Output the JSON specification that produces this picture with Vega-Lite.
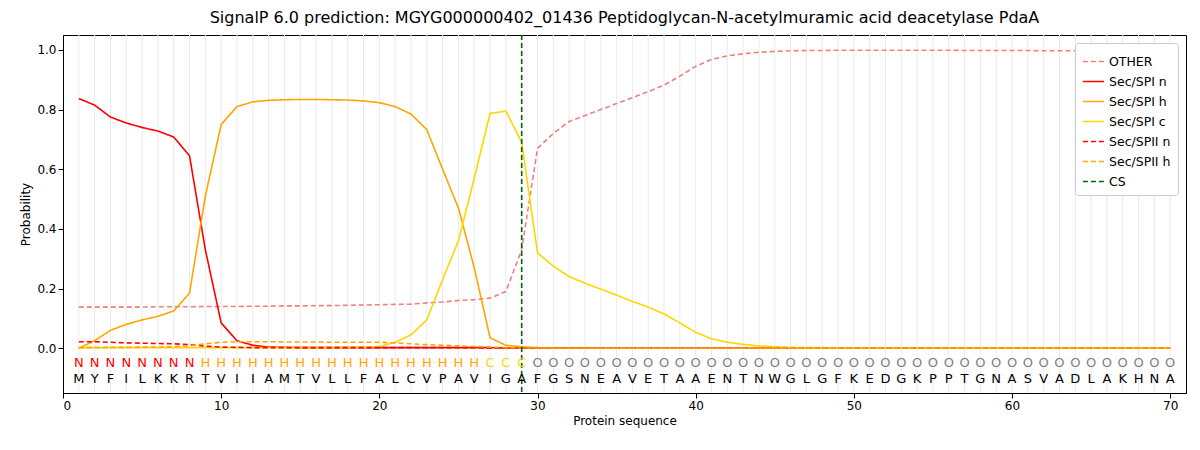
{
  "$schema": "https://vega.github.io/schema/vega-lite/v6.json",
  "autosize": {"type": "fit", "contains": "padding"},
  "width": 1200,
  "height": 450,
  "padding": {"left": 19, "top": 10, "right": 14, "bottom": 24},
  "background": "white",
  "title": {"text": "SignalP 6.0 prediction: MGYG000000402_01436 Peptidoglycan-N-acetylmuramic acid deacetylase PdaA", "fontSize": 16, "fontWeight": "normal", "font": "DejaVu Sans", "offset": 8},
  "config": {"font": "DejaVu Sans", "view": {"stroke": "black"}, "axis": {"labelFontSize": 12, "titleFontSize": 12, "titleFontWeight": "normal", "domainColor": "black", "tickColor": "black", "labelColor": "black"}},
  "data": {"values": [
    {"pos":1,"aa":"M","lab":"N","OTHER":0.138,"Sec/SPI n":0.837,"Sec/SPI h":0.0,"Sec/SPI c":0.002,"Sec/SPII n":0.022,"Sec/SPII h":0.002},
    {"pos":2,"aa":"Y","lab":"N","OTHER":0.138,"Sec/SPI n":0.815,"Sec/SPI h":0.025,"Sec/SPI c":0.002,"Sec/SPII n":0.022,"Sec/SPII h":0.002},
    {"pos":3,"aa":"F","lab":"N","OTHER":0.138,"Sec/SPI n":0.775,"Sec/SPI h":0.06,"Sec/SPI c":0.002,"Sec/SPII n":0.02,"Sec/SPII h":0.003},
    {"pos":4,"aa":"I","lab":"N","OTHER":0.138,"Sec/SPI n":0.755,"Sec/SPI h":0.08,"Sec/SPI c":0.002,"Sec/SPII n":0.018,"Sec/SPII h":0.003},
    {"pos":5,"aa":"L","lab":"N","OTHER":0.138,"Sec/SPI n":0.74,"Sec/SPI h":0.095,"Sec/SPI c":0.002,"Sec/SPII n":0.017,"Sec/SPII h":0.004},
    {"pos":6,"aa":"K","lab":"N","OTHER":0.139,"Sec/SPI n":0.728,"Sec/SPI h":0.107,"Sec/SPI c":0.002,"Sec/SPII n":0.016,"Sec/SPII h":0.004},
    {"pos":7,"aa":"K","lab":"N","OTHER":0.139,"Sec/SPI n":0.708,"Sec/SPI h":0.125,"Sec/SPI c":0.002,"Sec/SPII n":0.015,"Sec/SPII h":0.005},
    {"pos":8,"aa":"R","lab":"N","OTHER":0.139,"Sec/SPI n":0.645,"Sec/SPI h":0.185,"Sec/SPI c":0.002,"Sec/SPII n":0.012,"Sec/SPII h":0.008},
    {"pos":9,"aa":"T","lab":"H","OTHER":0.14,"Sec/SPI n":0.33,"Sec/SPI h":0.51,"Sec/SPI c":0.002,"Sec/SPII n":0.007,"Sec/SPII h":0.015},
    {"pos":10,"aa":"V","lab":"H","OTHER":0.14,"Sec/SPI n":0.085,"Sec/SPI h":0.75,"Sec/SPI c":0.002,"Sec/SPII n":0.004,"Sec/SPII h":0.02},
    {"pos":11,"aa":"I","lab":"H","OTHER":0.14,"Sec/SPI n":0.025,"Sec/SPI h":0.81,"Sec/SPI c":0.002,"Sec/SPII n":0.003,"Sec/SPII h":0.022},
    {"pos":12,"aa":"I","lab":"H","OTHER":0.141,"Sec/SPI n":0.01,"Sec/SPI h":0.826,"Sec/SPI c":0.002,"Sec/SPII n":0.002,"Sec/SPII h":0.022},
    {"pos":13,"aa":"A","lab":"H","OTHER":0.141,"Sec/SPI n":0.004,"Sec/SPI h":0.831,"Sec/SPI c":0.002,"Sec/SPII n":0.002,"Sec/SPII h":0.022},
    {"pos":14,"aa":"M","lab":"H","OTHER":0.142,"Sec/SPI n":0.003,"Sec/SPI h":0.833,"Sec/SPI c":0.002,"Sec/SPII n":0.002,"Sec/SPII h":0.021},
    {"pos":15,"aa":"T","lab":"H","OTHER":0.142,"Sec/SPI n":0.002,"Sec/SPI h":0.834,"Sec/SPI c":0.002,"Sec/SPII n":0.002,"Sec/SPII h":0.021},
    {"pos":16,"aa":"V","lab":"H","OTHER":0.143,"Sec/SPI n":0.002,"Sec/SPI h":0.834,"Sec/SPI c":0.002,"Sec/SPII n":0.002,"Sec/SPII h":0.021},
    {"pos":17,"aa":"L","lab":"H","OTHER":0.143,"Sec/SPI n":0.002,"Sec/SPI h":0.833,"Sec/SPI c":0.002,"Sec/SPII n":0.002,"Sec/SPII h":0.02},
    {"pos":18,"aa":"L","lab":"H","OTHER":0.144,"Sec/SPI n":0.002,"Sec/SPI h":0.832,"Sec/SPI c":0.003,"Sec/SPII n":0.002,"Sec/SPII h":0.02},
    {"pos":19,"aa":"F","lab":"H","OTHER":0.145,"Sec/SPI n":0.002,"Sec/SPI h":0.829,"Sec/SPI c":0.003,"Sec/SPII n":0.002,"Sec/SPII h":0.02},
    {"pos":20,"aa":"A","lab":"H","OTHER":0.146,"Sec/SPI n":0.002,"Sec/SPI h":0.823,"Sec/SPI c":0.006,"Sec/SPII n":0.002,"Sec/SPII h":0.02},
    {"pos":21,"aa":"L","lab":"H","OTHER":0.147,"Sec/SPI n":0.002,"Sec/SPI h":0.81,"Sec/SPI c":0.02,"Sec/SPII n":0.002,"Sec/SPII h":0.018},
    {"pos":22,"aa":"C","lab":"H","OTHER":0.148,"Sec/SPI n":0.002,"Sec/SPI h":0.785,"Sec/SPI c":0.045,"Sec/SPII n":0.002,"Sec/SPII h":0.015},
    {"pos":23,"aa":"V","lab":"H","OTHER":0.152,"Sec/SPI n":0.002,"Sec/SPI h":0.733,"Sec/SPI c":0.095,"Sec/SPII n":0.002,"Sec/SPII h":0.012},
    {"pos":24,"aa":"P","lab":"H","OTHER":0.155,"Sec/SPI n":0.002,"Sec/SPI h":0.6,"Sec/SPI c":0.23,"Sec/SPII n":0.002,"Sec/SPII h":0.01},
    {"pos":25,"aa":"A","lab":"H","OTHER":0.16,"Sec/SPI n":0.002,"Sec/SPI h":0.47,"Sec/SPI c":0.36,"Sec/SPII n":0.002,"Sec/SPII h":0.008},
    {"pos":26,"aa":"V","lab":"H","OTHER":0.163,"Sec/SPI n":0.002,"Sec/SPI h":0.27,"Sec/SPI c":0.57,"Sec/SPII n":0.002,"Sec/SPII h":0.006},
    {"pos":27,"aa":"I","lab":"C","OTHER":0.168,"Sec/SPI n":0.002,"Sec/SPI h":0.035,"Sec/SPI c":0.787,"Sec/SPII n":0.001,"Sec/SPII h":0.004},
    {"pos":28,"aa":"G","lab":"C","OTHER":0.19,"Sec/SPI n":0.001,"Sec/SPI h":0.01,"Sec/SPI c":0.795,"Sec/SPII n":0.001,"Sec/SPII h":0.002},
    {"pos":29,"aa":"A","lab":"C","OTHER":0.33,"Sec/SPI n":0.001,"Sec/SPI h":0.005,"Sec/SPI c":0.69,"Sec/SPII n":0.001,"Sec/SPII h":0.001},
    {"pos":30,"aa":"F","lab":"O","OTHER":0.67,"Sec/SPI n":0.001,"Sec/SPI h":0.002,"Sec/SPI c":0.32,"Sec/SPII n":0.0,"Sec/SPII h":0.0},
    {"pos":31,"aa":"G","lab":"O","OTHER":0.72,"Sec/SPI n":0.001,"Sec/SPI h":0.001,"Sec/SPI c":0.275,"Sec/SPII n":0.0,"Sec/SPII h":0.0},
    {"pos":32,"aa":"S","lab":"O","OTHER":0.76,"Sec/SPI n":0.001,"Sec/SPI h":0.001,"Sec/SPI c":0.24,"Sec/SPII n":0.0,"Sec/SPII h":0.0},
    {"pos":33,"aa":"N","lab":"O","OTHER":0.78,"Sec/SPI n":0.001,"Sec/SPI h":0.001,"Sec/SPI c":0.218,"Sec/SPII n":0.0,"Sec/SPII h":0.0},
    {"pos":34,"aa":"E","lab":"O","OTHER":0.8,"Sec/SPI n":0.0,"Sec/SPI h":0.0,"Sec/SPI c":0.198,"Sec/SPII n":0.0,"Sec/SPII h":0.0},
    {"pos":35,"aa":"A","lab":"O","OTHER":0.82,"Sec/SPI n":0.0,"Sec/SPI h":0.0,"Sec/SPI c":0.178,"Sec/SPII n":0.0,"Sec/SPII h":0.0},
    {"pos":36,"aa":"V","lab":"O","OTHER":0.84,"Sec/SPI n":0.0,"Sec/SPI h":0.0,"Sec/SPI c":0.157,"Sec/SPII n":0.0,"Sec/SPII h":0.0},
    {"pos":37,"aa":"E","lab":"O","OTHER":0.86,"Sec/SPI n":0.0,"Sec/SPI h":0.0,"Sec/SPI c":0.138,"Sec/SPII n":0.0,"Sec/SPII h":0.0},
    {"pos":38,"aa":"T","lab":"O","OTHER":0.882,"Sec/SPI n":0.0,"Sec/SPI h":0.0,"Sec/SPI c":0.115,"Sec/SPII n":0.0,"Sec/SPII h":0.0},
    {"pos":39,"aa":"A","lab":"O","OTHER":0.912,"Sec/SPI n":0.0,"Sec/SPI h":0.0,"Sec/SPI c":0.085,"Sec/SPII n":0.0,"Sec/SPII h":0.0},
    {"pos":40,"aa":"A","lab":"O","OTHER":0.945,"Sec/SPI n":0.0,"Sec/SPI h":0.0,"Sec/SPI c":0.053,"Sec/SPII n":0.0,"Sec/SPII h":0.0},
    {"pos":41,"aa":"E","lab":"O","OTHER":0.968,"Sec/SPI n":0.0,"Sec/SPI h":0.0,"Sec/SPI c":0.032,"Sec/SPII n":0.0,"Sec/SPII h":0.0},
    {"pos":42,"aa":"N","lab":"O","OTHER":0.98,"Sec/SPI n":0.0,"Sec/SPI h":0.0,"Sec/SPI c":0.02,"Sec/SPII n":0.0,"Sec/SPII h":0.0},
    {"pos":43,"aa":"T","lab":"O","OTHER":0.987,"Sec/SPI n":0.0,"Sec/SPI h":0.0,"Sec/SPI c":0.013,"Sec/SPII n":0.0,"Sec/SPII h":0.0},
    {"pos":44,"aa":"N","lab":"O","OTHER":0.992,"Sec/SPI n":0.0,"Sec/SPI h":0.0,"Sec/SPI c":0.008,"Sec/SPII n":0.0,"Sec/SPII h":0.0},
    {"pos":45,"aa":"W","lab":"O","OTHER":0.995,"Sec/SPI n":0.0,"Sec/SPI h":0.0,"Sec/SPI c":0.005,"Sec/SPII n":0.0,"Sec/SPII h":0.0},
    {"pos":46,"aa":"G","lab":"O","OTHER":0.997,"Sec/SPI n":0.0,"Sec/SPI h":0.0,"Sec/SPI c":0.003,"Sec/SPII n":0.0,"Sec/SPII h":0.0},
    {"pos":47,"aa":"L","lab":"O","OTHER":0.998,"Sec/SPI n":0.0,"Sec/SPI h":0.0,"Sec/SPI c":0.002,"Sec/SPII n":0.0,"Sec/SPII h":0.0},
    {"pos":48,"aa":"G","lab":"O","OTHER":0.998,"Sec/SPI n":0.0,"Sec/SPI h":0.0,"Sec/SPI c":0.002,"Sec/SPII n":0.0,"Sec/SPII h":0.0},
    {"pos":49,"aa":"F","lab":"O","OTHER":0.999,"Sec/SPI n":0.0,"Sec/SPI h":0.0,"Sec/SPI c":0.001,"Sec/SPII n":0.0,"Sec/SPII h":0.0},
    {"pos":50,"aa":"K","lab":"O","OTHER":0.999,"Sec/SPI n":0.0,"Sec/SPI h":0.0,"Sec/SPI c":0.001,"Sec/SPII n":0.0,"Sec/SPII h":0.0},
    {"pos":51,"aa":"E","lab":"O","OTHER":0.999,"Sec/SPI n":0.0,"Sec/SPI h":0.0,"Sec/SPI c":0.001,"Sec/SPII n":0.0,"Sec/SPII h":0.0},
    {"pos":52,"aa":"D","lab":"O","OTHER":0.999,"Sec/SPI n":0.0,"Sec/SPI h":0.0,"Sec/SPI c":0.001,"Sec/SPII n":0.0,"Sec/SPII h":0.0},
    {"pos":53,"aa":"G","lab":"O","OTHER":0.999,"Sec/SPI n":0.0,"Sec/SPI h":0.0,"Sec/SPI c":0.001,"Sec/SPII n":0.0,"Sec/SPII h":0.0},
    {"pos":54,"aa":"K","lab":"O","OTHER":0.999,"Sec/SPI n":0.0,"Sec/SPI h":0.0,"Sec/SPI c":0.001,"Sec/SPII n":0.0,"Sec/SPII h":0.0},
    {"pos":55,"aa":"P","lab":"O","OTHER":0.999,"Sec/SPI n":0.0,"Sec/SPI h":0.0,"Sec/SPI c":0.001,"Sec/SPII n":0.0,"Sec/SPII h":0.0},
    {"pos":56,"aa":"P","lab":"O","OTHER":0.999,"Sec/SPI n":0.0,"Sec/SPI h":0.0,"Sec/SPI c":0.001,"Sec/SPII n":0.0,"Sec/SPII h":0.0},
    {"pos":57,"aa":"T","lab":"O","OTHER":0.998,"Sec/SPI n":0.0,"Sec/SPI h":0.0,"Sec/SPI c":0.001,"Sec/SPII n":0.0,"Sec/SPII h":0.0},
    {"pos":58,"aa":"G","lab":"O","OTHER":0.998,"Sec/SPI n":0.0,"Sec/SPI h":0.0,"Sec/SPI c":0.001,"Sec/SPII n":0.0,"Sec/SPII h":0.0},
    {"pos":59,"aa":"N","lab":"O","OTHER":0.998,"Sec/SPI n":0.0,"Sec/SPI h":0.0,"Sec/SPI c":0.001,"Sec/SPII n":0.0,"Sec/SPII h":0.0},
    {"pos":60,"aa":"A","lab":"O","OTHER":0.998,"Sec/SPI n":0.0,"Sec/SPI h":0.0,"Sec/SPI c":0.001,"Sec/SPII n":0.0,"Sec/SPII h":0.0},
    {"pos":61,"aa":"S","lab":"O","OTHER":0.998,"Sec/SPI n":0.0,"Sec/SPI h":0.0,"Sec/SPI c":0.001,"Sec/SPII n":0.0,"Sec/SPII h":0.0},
    {"pos":62,"aa":"V","lab":"O","OTHER":0.997,"Sec/SPI n":0.0,"Sec/SPI h":0.0,"Sec/SPI c":0.001,"Sec/SPII n":0.0,"Sec/SPII h":0.0},
    {"pos":63,"aa":"A","lab":"O","OTHER":0.997,"Sec/SPI n":0.0,"Sec/SPI h":0.0,"Sec/SPI c":0.001,"Sec/SPII n":0.0,"Sec/SPII h":0.0},
    {"pos":64,"aa":"D","lab":"O","OTHER":0.997,"Sec/SPI n":0.0,"Sec/SPI h":0.0,"Sec/SPI c":0.001,"Sec/SPII n":0.0,"Sec/SPII h":0.0},
    {"pos":65,"aa":"L","lab":"O","OTHER":0.997,"Sec/SPI n":0.0,"Sec/SPI h":0.0,"Sec/SPI c":0.001,"Sec/SPII n":0.0,"Sec/SPII h":0.0},
    {"pos":66,"aa":"A","lab":"O","OTHER":0.997,"Sec/SPI n":0.0,"Sec/SPI h":0.0,"Sec/SPI c":0.001,"Sec/SPII n":0.0,"Sec/SPII h":0.0},
    {"pos":67,"aa":"K","lab":"O","OTHER":0.997,"Sec/SPI n":0.0,"Sec/SPI h":0.0,"Sec/SPI c":0.001,"Sec/SPII n":0.0,"Sec/SPII h":0.0},
    {"pos":68,"aa":"H","lab":"O","OTHER":0.997,"Sec/SPI n":0.0,"Sec/SPI h":0.0,"Sec/SPI c":0.001,"Sec/SPII n":0.0,"Sec/SPII h":0.0},
    {"pos":69,"aa":"N","lab":"O","OTHER":0.997,"Sec/SPI n":0.0,"Sec/SPI h":0.0,"Sec/SPI c":0.001,"Sec/SPII n":0.0,"Sec/SPII h":0.0},
    {"pos":70,"aa":"A","lab":"O","OTHER":0.997,"Sec/SPI n":0.0,"Sec/SPI h":0.0,"Sec/SPI c":0.001,"Sec/SPII n":0.0,"Sec/SPII h":0.0}
  ]},
  "layer": [
    {
      "mark": {"type": "rule", "color": "#ebebeb", "strokeWidth": 1},
      "encoding": {"x": {"field": "pos", "type": "quantitative"}}
    },
    {
      "layer": [
        {
          "transform": [{"fold": ["OTHER", "Sec/SPI n", "Sec/SPI h", "Sec/SPI c", "Sec/SPII n", "Sec/SPII h"], "as": ["series", "prob"]}],
          "mark": {"type": "line", "strokeWidth": 1.6},
          "encoding": {
            "x": {"field": "pos", "type": "quantitative", "title": "Protein sequence", "scale": {"domain": [0, 71], "nice": false}, "axis": {"values": [0,10,20,30,40,50,60,70], "grid": false, "format": "d"}},
            "y": {"field": "prob", "type": "quantitative", "title": "Probability", "scale": {"domain": [-0.15, 1.05], "nice": false}, "axis": {"values": [0,0.2,0.4,0.6,0.8,1.0], "format": ".1f", "grid": false}},
            "color": {"field": "series", "type": "nominal", "title": null,
              "scale": {"domain": ["OTHER", "Sec/SPI n", "Sec/SPI h", "Sec/SPI c", "Sec/SPII n", "Sec/SPII h", "CS"], "range": ["#f08080", "#ff0000", "#ffa500", "#ffd700", "#ff0000", "#ffa500", "#006400"]},
              "legend": {"orient": "top-right", "offset": 8, "symbolType": "stroke", "strokeColor": "#cccccc", "fillColor": "white", "padding": 7, "cornerRadius": 3, "labelFontSize": 12.5, "symbolSize": 450, "symbolStrokeWidth": 1.6, "rowPadding": 2}},
            "strokeDash": {"field": "series", "type": "nominal",
              "scale": {"domain": ["OTHER", "Sec/SPI n", "Sec/SPI h", "Sec/SPI c", "Sec/SPII n", "Sec/SPII h", "CS"], "range": [[5,3],[1,0],[1,0],[1,0],[5,3],[5,3],[5,3]]}, "legend": null}
          }
        },
        {
          "data": {"values": [{"series": "CS", "cs": 29}]},
          "mark": {"type": "rule", "strokeWidth": 1.6},
          "encoding": {
            "x": {"field": "cs", "type": "quantitative"},
            "color": {"field": "series", "type": "nominal"},
            "strokeDash": {"field": "series", "type": "nominal"}
          }
        }
      ]
    },
    {
      "transform": [{"filter": "datum.lab == 'N'"}],
      "mark": {"type": "text", "color": "#ff0000", "fontSize": 13, "baseline": "middle"},
      "encoding": {"x": {"field": "pos", "type": "quantitative"}, "y": {"datum": -0.048}, "text": {"field": "lab"}}
    },
    {
      "transform": [{"filter": "datum.lab == 'H'"}],
      "mark": {"type": "text", "color": "#ffa500", "fontSize": 13, "baseline": "middle"},
      "encoding": {"x": {"field": "pos", "type": "quantitative"}, "y": {"datum": -0.048}, "text": {"field": "lab"}}
    },
    {
      "transform": [{"filter": "datum.lab == 'C'"}],
      "mark": {"type": "text", "color": "#ffd700", "fontSize": 13, "baseline": "middle"},
      "encoding": {"x": {"field": "pos", "type": "quantitative"}, "y": {"datum": -0.048}, "text": {"field": "lab"}}
    },
    {
      "transform": [{"filter": "datum.lab == 'O'"}],
      "mark": {"type": "text", "color": "#808080", "fontSize": 13, "baseline": "middle"},
      "encoding": {"x": {"field": "pos", "type": "quantitative"}, "y": {"datum": -0.048}, "text": {"field": "lab"}}
    },
    {
      "mark": {"type": "text", "color": "black", "fontSize": 13, "baseline": "middle"},
      "encoding": {"x": {"field": "pos", "type": "quantitative"}, "y": {"datum": -0.103}, "text": {"field": "aa"}}
    }
  ]
}
